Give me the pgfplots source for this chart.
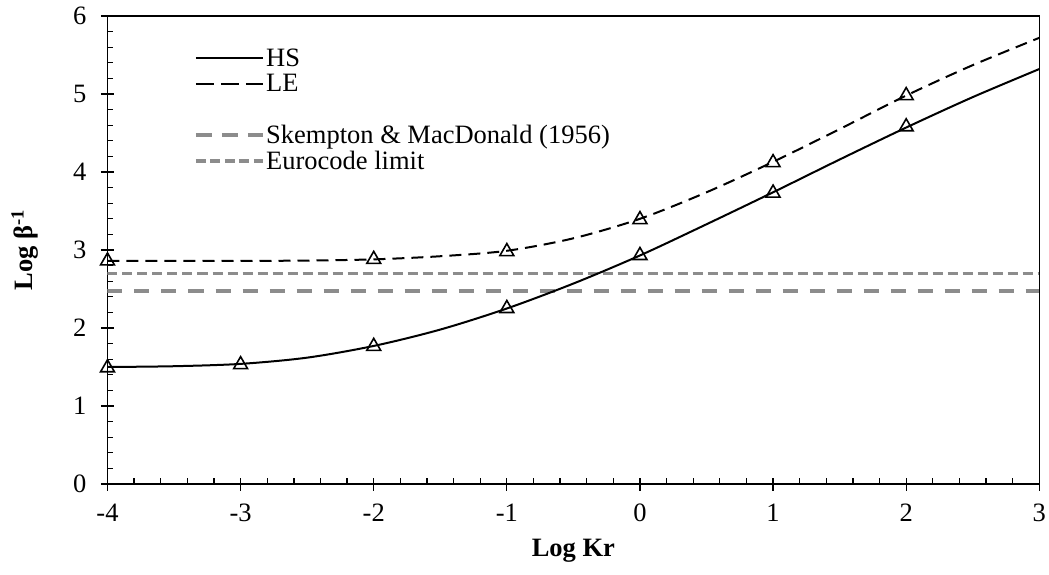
\documentclass[border=0pt]{standalone}
\usepackage{pgfplots}
\pgfplotsset{compat=1.18}
\usepackage{fontspec}
\setmainfont{Liberation Serif}
\definecolor{refgray}{RGB}{140,140,140}

\begin{document}
\begin{tikzpicture}[font=\fontsize{26.5}{30}\selectfont]
\useasboundingbox (-107.5pt,-90pt) rectangle (941.5pt,484pt);
\begin{axis}[
  scale only axis, width=931.8pt, height=468pt,
  xmin=-4, xmax=3, ymin=0, ymax=6,
  xtick={-4,-3,-2,-1,0,1,2,3},
  xticklabels={-4,-3,-2,-1,0,1,2,3},
  ytick={0,1,2,3,4,5,6},
  minor tick num=4,
  tick align=center,
  major tick length=13pt, minor tick length=6pt,
  minor x tick style={yshift=3pt}, minor y tick style={xshift=3pt},
  tick pos=left,
  axis line style={line width=1.6pt},
  tick style={black, line width=1.3pt},
  /pgf/number format/assume math mode=true,
  xticklabel style={yshift=-10pt},
  yticklabel style={xshift=-11pt},
  xlabel={\textbf{Log Kr}},
  ylabel={\textbf{Log β\textsuperscript{-1}}},
  xlabel style={at={(axis description cs:0.5,-0.142)}, anchor=center},
  ylabel style={at={(axis description cs:-0.0885,0.5)}, anchor=center},
  clip mode=individual,
  legend image code/.code={\draw[#1] (0pt,0pt) -- (67pt,0pt);},
  legend style={draw=none, fill=none, at={(axis description cs:0.0928,0.934)}, anchor=north west,
    inner sep=0pt, row sep=3.5pt, nodes={inner sep=1.5pt}},
  legend cell align=left,
]
\addlegendimage{black, line width=2pt}
\addlegendentry{HS}
\addlegendimage{black, line width=2pt, dash pattern=on 18pt off 7pt}
\addlegendentry{LE}
\addlegendimage{empty legend}
\addlegendentry{\phantom{H}}
\addlegendimage{refgray, line width=3.5pt, dash pattern=on 16pt off 10pt}
\addlegendentry{Skempton \& MacDonald (1956)}
\addlegendimage{refgray, line width=3.5pt, dash pattern=on 10pt off 4.5pt}
\addlegendentry{Eurocode limit}

% Skempton & MacDonald (1956)
\addplot[refgray, line width=3.5pt, dash pattern=on 15pt off 12pt, forget plot]
  coordinates {(-4,2.475) (3,2.475)};
% Eurocode limit
\addplot[refgray, line width=3.5pt, dash pattern=on 10pt off 5pt, forget plot]
  coordinates {(-4,2.70) (3,2.70)};
% HS curve
\addplot[black, line width=2pt, smooth, forget plot] coordinates {
  (-4,1.50) (-3.5,1.51) (-3,1.54) (-2.5,1.62) (-2,1.77) (-1.5,1.98) (-1,2.25)
  (-0.5,2.57) (0,2.93) (0.5,3.33) (1,3.74) (1.5,4.16) (2,4.57) (2.5,4.96) (3,5.32)};
% LE curve
\addplot[black, line width=2pt, dash pattern=on 12pt off 7pt, smooth, forget plot] coordinates {
  (-4,2.86) (-3,2.86) (-2.5,2.865) (-2,2.88) (-1.5,2.92) (-1,2.99) (-0.5,3.15)
  (0,3.40) (0.5,3.74) (1,4.13) (1.5,4.55) (2,4.98) (2.5,5.37) (3,5.72)};
% HS markers
\addplot[only marks, mark=triangle, mark size=8pt,
  mark options={fill=white, draw=black, line width=1.6pt, solid}, forget plot] coordinates {
  (-4,1.49) (-3,1.53) (-2,1.765) (-1,2.25) (0,2.93) (1,3.73) (2,4.58)};
% LE markers
\addplot[only marks, mark=triangle, mark size=8pt,
  mark options={fill=white, draw=black, line width=1.6pt, solid}, forget plot] coordinates {
  (-4,2.86) (-2,2.88) (-1,2.98) (0,3.39) (1,4.12) (2,4.98)};
\end{axis}
\end{tikzpicture}
\end{document}
